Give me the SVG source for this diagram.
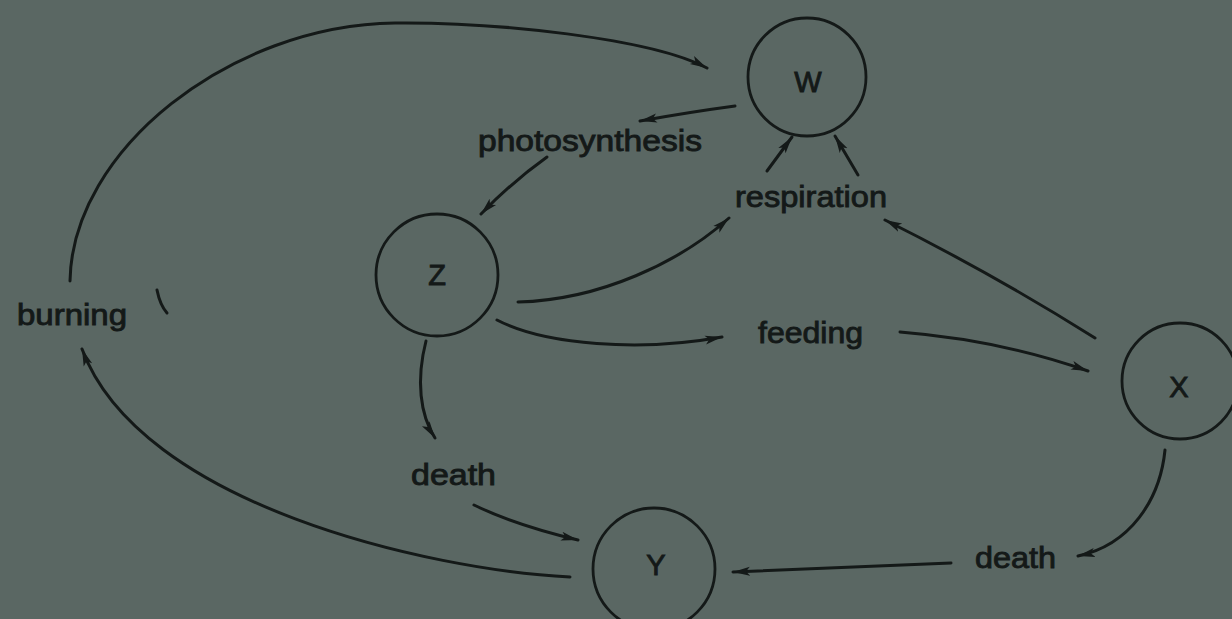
<svg xmlns="http://www.w3.org/2000/svg" width="1232" height="619" viewBox="0 0 1232 619">
  <defs>
    <marker id="arrow" markerUnits="userSpaceOnUse" markerWidth="20" markerHeight="12" refX="17" refY="6" orient="auto">
      <path d="M0,1.5 L17,6 L0,10.5 L4,6 z" fill="#141918"/>
    </marker>
    <style>
      .node circle { fill: none; stroke: #141918; stroke-width: 2.8; }
      .node text { font-family: "Liberation Sans", Arial, sans-serif; font-size: 29px; fill: #141918; stroke: #141918; stroke-width: 0.9; text-anchor: middle; }
      .label { font-family: "Liberation Sans", Arial, sans-serif; font-size: 30px; fill: #141918; stroke: #141918; stroke-width: 0.9; }
      #connectors path { fill: none; stroke: #141918; stroke-width: 3; stroke-linecap: round; }
      #connectors path.arr { marker-end: url(#arrow); }
    </style>
  </defs>
  <rect x="0" y="0" width="1232" height="619" fill="#5a6763"/>

  <g id="node-W" class="node">
    <circle cx="807" cy="77" r="59"/>
    <text x="808" y="92">W</text>
  </g>
  <g id="node-Z" class="node">
    <circle cx="437" cy="275" r="61"/>
    <text x="437" y="285">Z</text>
  </g>
  <g id="node-X" class="node">
    <circle cx="1180" cy="381" r="58"/>
    <text x="1179" y="397">X</text>
  </g>
  <g id="node-Y" class="node">
    <circle cx="654" cy="569" r="61"/>
    <text x="656" y="575">Y</text>
  </g>

  <g id="labels">
    <text class="label" x="478" y="151" textLength="224" lengthAdjust="spacingAndGlyphs">photosynthesis</text>
    <text class="label" x="735" y="207" textLength="152" lengthAdjust="spacingAndGlyphs">respiration</text>
    <text class="label" x="17" y="325" textLength="110" lengthAdjust="spacingAndGlyphs">burning</text>
    <text class="label" x="758" y="343" textLength="105" lengthAdjust="spacingAndGlyphs">feeding</text>
    <text class="label" x="411" y="485" textLength="85" lengthAdjust="spacingAndGlyphs">death</text>
    <text class="label" x="975" y="568" textLength="81" lengthAdjust="spacingAndGlyphs">death</text>
  </g>

  <g id="connectors">
    <path class="arr" d="M 70 281 C 72 150, 230 25, 395 23 C 495 22, 650 38, 707 68"/>
    <path class="arr" d="M 735 106 Q 690 112, 640 121"/>
    <path class="arr" d="M 547 157 Q 512 182, 481 214"/>
    <path class="arr" d="M 767 171 L 792 137"/>
    <path class="arr" d="M 858 175 L 835 136"/>
    <path class="arr" d="M 518 302 C 600 300, 680 262, 729 218"/>
    <path class="arr" d="M 1095 338 Q 995 275, 885 220"/>
    <path class="arr" d="M 497 320 C 545 345, 640 352, 722 337"/>
    <path class="arr" d="M 900 332 Q 1000 340, 1088 371"/>
    <path class="arr" d="M 426 341 C 416 380, 420 415, 435 438"/>
    <path class="arr" d="M 474 505 Q 515 525, 578 540"/>
    <path class="arr" d="M 570 577 C 430 570, 140 505, 82 349"/>
    <path class="arr" d="M 1165 450 C 1160 500, 1130 545, 1078 556"/>
    <path class="arr" d="M 951 563 L 733 572"/>
    <path d="M 157 290 Q 160 305, 167 313"/>
  </g>
</svg>
